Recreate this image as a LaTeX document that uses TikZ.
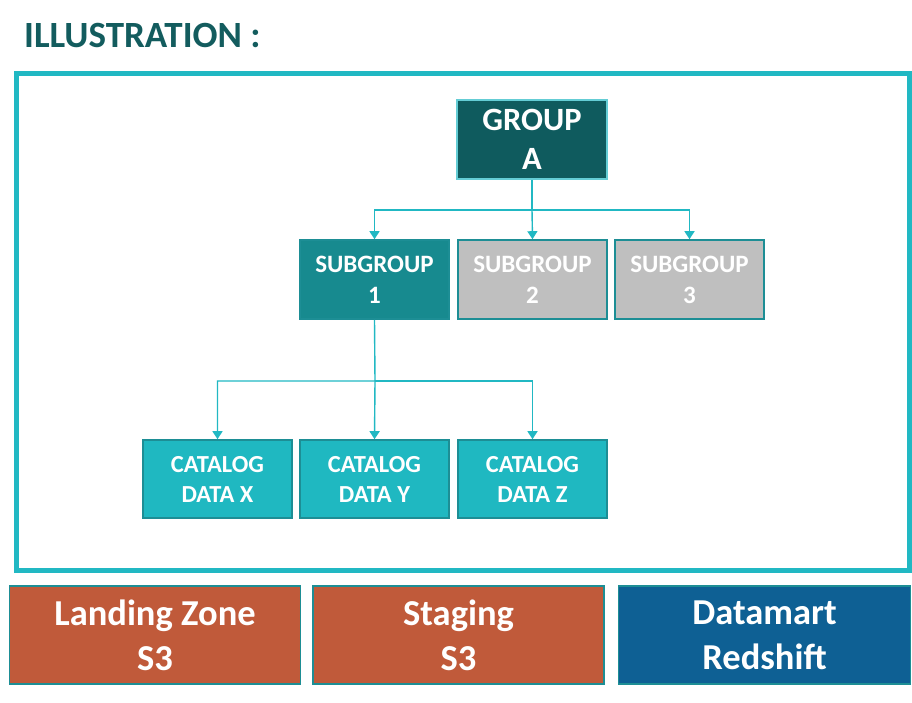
\documentclass[tikz,border=0pt]{standalone}
\usepackage{fontspec}
\setmainfont{Carlito}
\usetikzlibrary{arrows.meta}
\definecolor{titlec}{HTML}{135C5E}
\definecolor{frame}{HTML}{21B8C3}
\definecolor{groupc}{HTML}{0F5B5E}
\definecolor{sub1c}{HTML}{178A8F}
\definecolor{greyc}{HTML}{BFBFBF}
\definecolor{edgec}{HTML}{1D8E95}
\definecolor{catc}{HTML}{1FB8C1}
\definecolor{orangec}{HTML}{C05A3A}
\definecolor{bluec}{HTML}{0E6094}
\tikzset{
  boxbase/.style={draw=edgec, line width=1.6pt, text=white, align=center, inner sep=0pt, font=\bfseries},
  groupbox/.style={boxbase, fill=groupc, draw=frame!70!white, minimum width=150pt, minimum height=79pt, font=\bfseries\fontsize{32.5}{39}\selectfont},
  subbox/.style={boxbase, minimum width=149pt, minimum height=79pt, font=\bfseries\fontsize{25}{31}\selectfont},
  catbox/.style={boxbase, fill=catc, minimum width=149pt, minimum height=78pt, font=\bfseries\fontsize{24.5}{30}\selectfont},
  zonebox/.style={boxbase, minimum width=291pt, minimum height=98pt, font=\bfseries\fontsize{36.5}{45}\selectfont},
  conn/.style={draw=frame, line width=1.4pt, -{Triangle[length=8pt,width=10pt]}},
}
\begin{document}
\begin{tikzpicture}[x=1pt,y=-1pt]
\useasboundingbox (0,0) rectangle (912,703);
\node[anchor=west, text=titlec, font=\bfseries\fontsize{37}{40}\selectfont, inner sep=0pt] (title) at (24,36) {ILLUSTRATION :};
\draw[draw=frame, line width=5pt] (16,74) rectangle (909,570.5);
\node[groupbox] (ga) at (532,139.5) {GROUP\\A};
\node[subbox, fill=sub1c] (s1) at (374.5,279.5) {SUBGROUP\\1};
\node[subbox, fill=greyc] (s2) at (532.5,279.5) {SUBGROUP\\2};
\node[subbox, fill=greyc] (s3) at (689.5,279.5) {SUBGROUP\\3};
\node[catbox] (cx) at (217.5,479) {CATALOG\\DATA X};
\node[catbox] (cy) at (374.5,479) {CATALOG\\DATA Y};
\node[catbox] (cz) at (532.5,479) {CATALOG\\DATA Z};
\coordinate (b1) at (532,210);
\coordinate (b2) at (375,381);
\draw[conn] (ga.south) -- (b1) -| (s1.north);
\draw[conn] (b1) -- (s2.north);
\draw[conn] (b1) -| (s3.north);
\draw[conn] (s1.south) -- (b2) -| (cx.north);
\draw[conn] (b2) -- (cy.north);
\draw[conn] (b2) -| (cz.north);
\node[zonebox, fill=orangec] (lz) at (155,635) {Landing Zone\\S3};
\node[zonebox, fill=orangec] (st) at (458.5,635) {Staging\\S3};
\node[zonebox, fill=bluec, minimum width=292pt] (dm) at (764.5,635) {Datamart\\Redshift};
\end{tikzpicture}
\end{document}
